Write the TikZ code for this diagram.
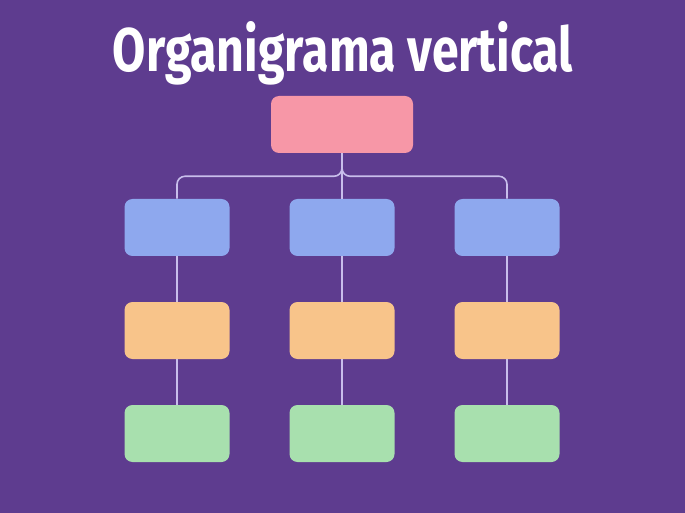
\documentclass[tikz,border=0pt]{standalone}
\usepackage{fontspec}
\setmainfont{Fira Sans}
\usepackage{graphicx}

\definecolor{bgpurple}{RGB}{94,60,143}
\definecolor{boxpink}{RGB}{247,151,167}
\definecolor{boxblue}{RGB}{142,168,238}
\definecolor{boxorange}{RGB}{248,196,138}
\definecolor{boxgreen}{RGB}{168,224,174}
\definecolor{linklilac}{RGB}{200,190,235}

\tikzset{
  orgbox/.style={rectangle, rounded corners=6pt, draw=none,
    minimum width=78.75pt, minimum height=42.75pt, inner sep=0pt},
  link/.style={draw=linklilac, line width=1.2pt},
}

\begin{document}
\begin{tikzpicture}[x=0.75pt, y=-0.75pt]

\newcommand\CL{177}
\newcommand\CM{342}
\newcommand\CR{507}

\fill[bgpurple](0,0) rectangle (685,513); %% background
\useasboundingbox(0,0) rectangle (685,513);

\node[anchor=base, text=white, inner sep=0pt] (title) at (343,72)
{\resizebox{345pt}{37.5pt}{\bfseries Organigrama vertical}};

%% boxes
\node[orgbox, fill=boxpink, minimum width=106.5pt] (head) at (\CM,124.5) {};

\node[orgbox, fill=boxblue] (blueL) at (\CL,227.5) {};
\node[orgbox, fill=boxblue] (blueM) at (\CM,227.5) {};
\node[orgbox, fill=boxblue] (blueR) at (\CR,227.5) {};

\node[orgbox, fill=boxorange] (orangeL) at (\CL,330.5) {};
\node[orgbox, fill=boxorange] (orangeM) at (\CM,330.5) {};
\node[orgbox, fill=boxorange] (orangeR) at (\CR,330.5) {};

\node[orgbox, fill=boxgreen] (greenL) at (\CL,433.5) {};
\node[orgbox, fill=boxgreen] (greenM) at (\CM,433.5) {};
\node[orgbox, fill=boxgreen] (greenR) at (\CR,433.5) {};

%% links
\draw[link](head.south)--(blueM.north);
\draw[link, rounded corners=6pt](head.south)--++(0,23)-|(blueL.north);
\draw[link, rounded corners=6pt](head.south)--++(0,23)-|(blueR.north);

\draw[link](blueL.south)--(orangeL.north);
\draw[link](blueM.south)--(orangeM.north);
\draw[link](blueR.south)--(orangeR.north);

\draw[link](orangeL.south)--(greenL.north);
\draw[link](orangeM.south)--(greenM.north);
\draw[link](orangeR.south)--(greenR.north);

\end{tikzpicture}
\end{document}
